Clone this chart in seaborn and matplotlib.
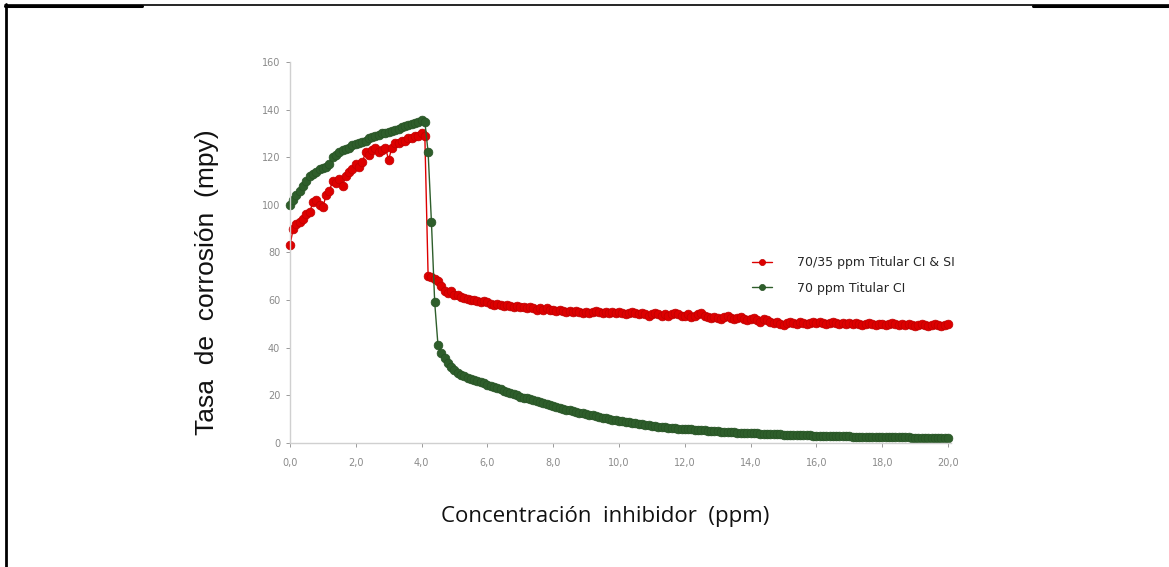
import numpy as np
import pandas as pd
import matplotlib
matplotlib.use("Agg")
import matplotlib.pyplot as plt
from matplotlib.lines import Line2D
import seaborn as sns

conc = np.round(np.arange(0, 201) / 10.0, 1)

red_vals = [
    83, 90, 92, 93, 94, 96, 97, 101, 102, 100,
    99, 104, 106, 110, 109, 111, 108, 112, 114, 115,
    117, 116, 118, 122, 121, 123, 124, 122, 123, 124,
    119, 124, 126, 126, 127, 127, 128, 128, 129, 129,
    130, 129, 70, 69.5, 69, 68, 66, 64, 63, 64,
    62, 62, 61.5, 61, 60.5, 60, 60, 59.5, 59, 59.5,
    59, 58.5, 58, 58.5, 58, 57.5, 58, 57.5, 57, 57.5,
    57, 57, 56.5, 57, 56.5, 56, 56.5, 56, 56.5, 56,
    56, 55.5, 56, 55.5, 55, 55.5, 55, 55.5, 55, 54.5,
    55, 54.5, 55, 55.5, 55, 54.5, 55, 54.5, 55, 54.5,
    55, 54.5, 54, 54.5, 55, 54.5, 54, 54.5, 54, 53.5,
    54, 54.5, 54, 53.5, 54, 53.5, 54, 54.5, 54, 53.5,
    53.5, 54, 53, 53.5, 54, 54.5, 53.5, 53, 52.5, 53,
    52.5, 52, 53, 53.5, 52.5, 52, 52.5, 53, 52, 51.5,
    52, 52.5, 51.5, 51, 52, 51.5, 51, 50.5, 51, 50,
    49.5, 50.5, 51, 50.5, 50, 51, 50.5, 50, 50.5, 51,
    50.5, 51, 50.5, 50, 50.5, 51, 50.5, 50, 50.5, 50,
    50.5, 50, 50.5, 50, 49.5, 50, 50.5, 50, 49.5, 50,
    50, 49.5, 50, 50.5, 50, 49.5, 50, 49.5, 50, 49.5,
    49, 49.5, 50, 49.5, 49, 49.5, 50, 49.5, 49, 49.5,
    50,
]

green_vals = [
    100, 102, 104, 106, 108, 110, 112, 113, 114, 115,
    115.5, 116, 117, 120, 121, 122, 123, 123.5, 124, 125,
    125.5, 126, 126.5, 127, 128, 128.5, 129, 129.5, 130, 130,
    130.5, 131, 131.5, 132, 132.5, 133, 133.5, 134, 134.5, 135,
    135.5, 135, 122, 93, 59, 41, 38, 35.5, 33.5, 32,
    30.5, 29.5, 28.5, 28, 27.5, 27, 26.5, 26, 25.5, 25,
    24.5, 24, 23.5, 23, 22.5, 22, 21.5, 21, 20.5, 20,
    19.5, 19, 18.7, 18.3, 18, 17.6, 17.2, 16.8, 16.4, 16,
    15.6, 15.2, 14.8, 14.4, 14, 13.7, 13.4, 13.1, 12.8, 12.5,
    12.2, 11.9, 11.6, 11.3, 11, 10.7, 10.4, 10.1, 9.8, 9.5,
    9.3, 9.1, 8.9, 8.7, 8.5, 8.3, 8.1, 7.9, 7.7, 7.5,
    7.3, 7.1, 6.9, 6.8, 6.6, 6.5, 6.3, 6.2, 6.0, 5.9,
    5.8, 5.7, 5.8, 5.6, 5.5, 5.4, 5.3, 5.2, 5.1, 5.0,
    4.9, 4.8, 4.7, 4.6, 4.5, 4.5, 4.4, 4.3, 4.2, 4.2,
    4.1, 4.0, 4.0, 3.9, 3.8, 3.8, 3.7, 3.7, 3.6, 3.6,
    3.5, 3.5, 3.4, 3.4, 3.3, 3.3, 3.2, 3.2, 3.2, 3.1,
    3.1, 3.0, 3.0, 3.0, 2.9, 2.9, 2.9, 2.8, 2.8, 2.8,
    2.8, 2.7, 2.7, 2.7, 2.7, 2.6, 2.6, 2.6, 2.6, 2.5,
    2.5, 2.5, 2.5, 2.5, 2.4, 2.4, 2.4, 2.4, 2.4, 2.3,
    2.3, 2.3, 2.3, 2.3, 2.3, 2.2, 2.2, 2.2, 2.2, 2.2,
    2.2,
]

series_names = ["70/35 ppm Titular CI & SI", "70 ppm Titular CI"]
x_ticks = [0, 2, 4, 6, 8, 10, 12, 14, 16, 18, 20]
x_tick_labels = ["0,0", "2,0", "4,0", "6,0", "8,0", "10,0", "12,0", "14,0", "16,0", "18,0", "20,0"]
y_ticks = [0, 20, 40, 60, 80, 100, 120, 140, 160]

df = pd.concat([
    pd.DataFrame({"conc": conc, "rate": red_vals, "serie": series_names[0]}),
    pd.DataFrame({"conc": conc, "rate": green_vals, "serie": series_names[1]}),
])

sns.set_style("white")
fig = plt.figure(figsize=(11.69, 5.67), dpi=100)
ax = fig.add_axes([0.248, 0.2187, 0.563, 0.672])

colors = {series_names[0]: "#dd0000", series_names[1]: "#2e5e2b"}
edges = {series_names[0]: "#c00000", series_names[1]: "#265224"}
for name in series_names:
    sub = df[df["serie"] == name]
    sns.lineplot(data=sub, x="conc", y="rate", ax=ax, color=colors[name],
                 marker="o", markersize=6.3, markeredgecolor=edges[name],
                 markeredgewidth=0.5, linewidth=1.0, label=name, sort=False,
                 clip_on=False)

ax.set_xlim(0, 20)
ax.set_ylim(0, 160)
ax.set_xticks(x_ticks)
ax.set_xticklabels(x_tick_labels)
ax.set_yticks(y_ticks)
ax.set_yticklabels([str(v) for v in y_ticks])
ax.tick_params(axis="both", labelsize=7, colors="#8a8a8a", length=3, width=0.6,
               direction="out", bottom=True, left=True)
ax.tick_params(axis="y", pad=4)
ax.tick_params(axis="x", pad=8)
for lab in ax.get_xticklabels() + ax.get_yticklabels():
    lab.set_color("#8a8a8a")

for side in ["top", "right"]:
    ax.spines[side].set_visible(False)
for side in ["left", "bottom"]:
    ax.spines[side].set_color("#d0d0d0")
    ax.spines[side].set_linewidth(1.0)
ax.spines["bottom"].set_bounds(0, 20.1)

ax.set_ylabel("Tasa  de  corrosión  (mpy)", fontsize=19, family="Liberation Sans", color="#111111")
ax.yaxis.set_label_coords(-0.108, 0.423)
ax.set_xlabel("Concentración  inhibidor  (ppm)", fontsize=16, family="Open Sans", color="#111111")
ax.xaxis.set_label_coords(0.479, -0.166)

ax.legend(loc="upper left", bbox_to_anchor=(0.685, 0.52), frameon=False,
          handlelength=1.6, labelspacing=1.0, handletextpad=2.0, markerscale=0.7,
          prop={"family": "DejaVu Sans", "size": 9})

# table-cell borders around the figure
fig.add_artist(Line2D([5 / 1169, 1.0], [1 - 5 / 567, 1 - 5 / 567], transform=fig.transFigure,
                      color="black", linewidth=1.2))
fig.add_artist(Line2D([5 / 1169, 142 / 1169], [1 - 5.5 / 567, 1 - 5.5 / 567], transform=fig.transFigure,
                      color="black", linewidth=2.2))
fig.add_artist(Line2D([1033 / 1169, 1168 / 1169], [1 - 5.5 / 567, 1 - 5.5 / 567], transform=fig.transFigure,
                      color="black", linewidth=2.2))
fig.add_artist(Line2D([6 / 1169, 6 / 1169], [0, 1 - 4 / 567], transform=fig.transFigure,
                      color="black", linewidth=2.0))

fig.savefig("out.png", dpi=100, facecolor="white")
